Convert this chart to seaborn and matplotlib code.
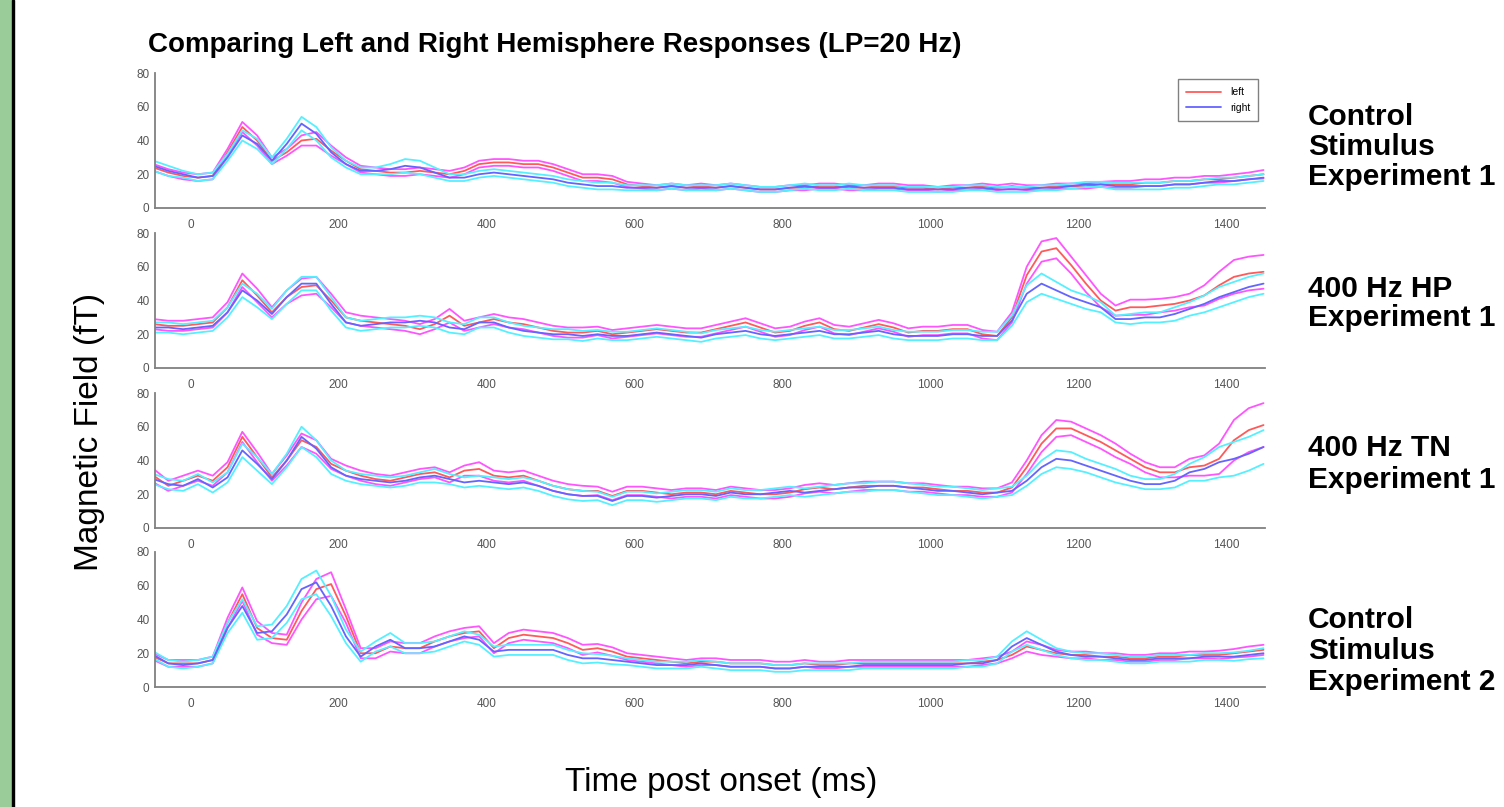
import numpy as np
import pandas as pd
import seaborn as sns
import matplotlib.pyplot as plt
from matplotlib.patches import Rectangle
from matplotlib.lines import Line2D

# time axis (ms), sampled every 20 ms
time_ms = np.arange(-50, 1451, 20)

# --- Control Stimulus, Experiment 1 ---
p1_left = [24, 21, 19, 18, 19, 33, 48, 40, 28, 33,
           40, 41, 34, 28, 23, 22, 21, 21, 22, 21,
           20, 22, 26, 27, 27, 26, 26, 24, 21, 18,
           18, 17, 14, 13, 12, 13, 12, 13, 12, 13,
           12, 11, 11, 12, 12, 13, 13, 12, 12, 13,
           13, 12, 12, 11, 12, 12, 13, 12, 13, 12,
           12, 13, 13, 13, 14, 14, 14, 15, 15, 16,
           16, 17, 17, 18, 19, 20]
p1_left_err = [2, 2, 2, 2, 2, 2, 3, 3, 2, 2,
               3, 4, 3, 2, 2, 2, 2, 2, 2, 2,
               2, 2, 2, 2, 2, 2, 2, 2, 2, 2,
               2, 2, 1.5, 1.5, 1.5, 1.5, 1.5, 1.5, 1.5, 1.5,
               1.5, 1.5, 1.5, 1.5, 1.5, 1.5, 1.5, 1.5, 1.5, 1.5,
               1.5, 1.5, 1.5, 1.5, 1.5, 1.5, 1.5, 1.5, 1.5, 1.5,
               1.5, 1.5, 1.5, 1.5, 1.5, 2, 2, 2, 2, 2,
               2, 2, 2, 2, 2, 2.5]
p1_right = [25, 22, 20, 18, 19, 30, 43, 38, 28, 38,
            50, 44, 33, 26, 22, 22, 23, 25, 24, 21,
            18, 18, 20, 21, 20, 19, 18, 17, 15, 14,
            13, 13, 12, 12, 12, 13, 12, 12, 12, 13,
            12, 11, 11, 12, 13, 12, 12, 13, 12, 12,
            12, 11, 11, 11, 11, 12, 12, 11, 11, 11,
            12, 12, 13, 14, 14, 13, 13, 13, 13, 14,
            14, 15, 16, 16, 17, 18]
p1_right_err = [3, 3, 2, 2, 2, 2, 3, 3, 2, 3,
                4, 4, 3, 2, 2, 2, 3, 4, 4, 3,
                2, 2, 2, 2, 2, 2, 2, 2, 2, 2,
                2, 2, 1.5, 1.5, 1.5, 1.5, 1.5, 1.5, 1.5, 1.5,
                1.5, 1.5, 1.5, 1.5, 1.5, 1.5, 1.5, 1.5, 1.5, 1.5,
                1.5, 1.5, 1.5, 1.5, 1.5, 1.5, 1.5, 1.5, 1.5, 1.5,
                1.5, 1.5, 1.5, 1.5, 1.5, 2, 2, 2, 2, 2,
                2, 2, 2, 2, 2, 2]

# --- 400 Hz HP, Experiment 1 ---
p2_left = [26, 25, 25, 26, 27, 36, 52, 43, 33, 42,
           48, 49, 40, 30, 28, 27, 26, 25, 23, 26,
           31, 25, 27, 29, 27, 26, 24, 22, 21, 21,
           22, 20, 21, 22, 23, 22, 21, 21, 23, 25,
           27, 24, 21, 22, 25, 27, 23, 22, 24, 26,
           24, 21, 22, 22, 23, 23, 20, 19, 30, 55,
           69, 71, 61, 50, 40, 34, 36, 36, 37, 38,
           40, 43, 49, 54, 56, 57]
p2_left_err = [3, 3, 3, 3, 3, 3, 4, 4, 3, 4,
               5, 5, 4, 3, 3, 3, 3, 3, 3, 3,
               4, 3, 3, 3, 3, 3, 3, 3, 3, 3,
               2.5, 2.5, 2.5, 2.5, 2.5, 2.5, 2.5, 2.5, 2.5, 2.5,
               2.5, 2.5, 2.5, 2.5, 2.5, 2.5, 2.5, 2.5, 2.5, 2.5,
               2.5, 2.5, 2.5, 2.5, 2.5, 2.5, 2.5, 2.5, 3, 5,
               6, 6, 5, 5, 4, 3, 4.5, 4.5, 4, 4,
               4, 6, 8, 10, 10, 10]
p2_right = [24, 24, 23, 24, 25, 33, 46, 40, 32, 42,
            50, 50, 38, 27, 25, 26, 27, 27, 28, 27,
            24, 23, 27, 27, 24, 22, 21, 20, 20, 19,
            20, 19, 19, 20, 21, 20, 19, 18, 20, 21,
            22, 20, 19, 20, 21, 22, 20, 20, 21, 22,
            20, 19, 19, 19, 20, 20, 19, 19, 28, 44,
            50, 46, 42, 39, 36, 29, 29, 30, 30, 32,
            35, 38, 42, 45, 48, 50]
p2_right_err = [3, 3, 3, 3, 3, 3, 4, 4, 3, 4,
                4, 4, 4, 3, 3, 3, 3, 3, 3, 3,
                3, 3, 3, 3, 3, 3, 3, 3, 3, 3,
                2.5, 2.5, 2.5, 2.5, 2.5, 2.5, 2.5, 2.5, 2.5, 2.5,
                2.5, 2.5, 2.5, 2.5, 2.5, 2.5, 2.5, 2.5, 2.5, 2.5,
                2.5, 2.5, 2.5, 2.5, 2.5, 2.5, 2.5, 2.5, 3, 5,
                6, 5, 4, 4, 3, 2, 3, 3, 3, 4,
                4, 5, 6, 6, 6, 6]

# --- 400 Hz TN, Experiment 1 ---
p3_left = [31, 25, 28, 31, 28, 36, 54, 42, 30, 40,
           52, 48, 38, 34, 31, 29, 28, 30, 32, 33,
           30, 34, 35, 31, 30, 31, 28, 25, 23, 22,
           22, 19, 22, 22, 21, 20, 21, 21, 20, 22,
           21, 20, 20, 21, 23, 24, 23, 24, 25, 25,
           25, 24, 24, 23, 22, 22, 21, 21, 24, 36,
           50, 59, 59, 55, 51, 46, 41, 36, 33, 33,
           36, 37, 41, 52, 58, 61]
p3_left_err = [4, 3, 3, 3, 3, 3, 3, 3, 2, 3,
               4, 4, 3, 3, 3, 3, 3, 3, 3, 3,
               3, 3, 4, 3, 3, 3, 3, 3, 3, 3,
               2.5, 2.5, 2.5, 2.5, 2.5, 2.5, 2.5, 2.5, 2.5, 2.5,
               2.5, 2.5, 2.5, 2.5, 2.5, 2.5, 2.5, 2.5, 2.5, 2.5,
               2.5, 2.5, 2.5, 2.5, 2.5, 2.5, 2.5, 2.5, 3, 4,
               5, 5, 4, 4, 4, 4, 3, 3, 3, 3,
               5, 6, 9, 12, 13, 13]
p3_right = [29, 26, 25, 29, 24, 30, 46, 38, 29, 40,
            54, 47, 36, 31, 29, 28, 27, 28, 30, 31,
            29, 27, 28, 27, 26, 27, 25, 22, 20, 19,
            19, 16, 19, 19, 18, 19, 20, 20, 19, 21,
            20, 20, 21, 22, 21, 22, 23, 24, 24, 25,
            25, 24, 23, 22, 22, 21, 20, 21, 22, 28,
            36, 41, 40, 37, 34, 31, 28, 26, 26, 28,
            33, 35, 39, 41, 44, 48]
p3_right_err = [3, 3, 3, 3, 3, 3, 4, 4, 3, 4,
                6, 5, 4, 3, 3, 3, 3, 3, 3, 4,
                3, 3, 3, 3, 3, 3, 3, 3, 3, 3,
                2.5, 2.5, 2.5, 2.5, 2.5, 2.5, 2.5, 2.5, 2.5, 2.5,
                2.5, 2.5, 2.5, 2.5, 2.5, 2.5, 2.5, 2.5, 2.5, 2.5,
                2.5, 2.5, 2.5, 2.5, 2.5, 2.5, 2.5, 2.5, 2.5, 3,
                4, 5, 5, 4, 4, 4, 3, 3, 3, 4,
                5, 7, 9, 10, 10, 10]

# --- Control Stimulus, Experiment 2 ---
p4_left = [18, 14, 14, 14, 16, 38, 55, 35, 29, 28,
           45, 58, 61, 42, 20, 20, 24, 23, 23, 27,
           30, 32, 33, 23, 29, 31, 30, 29, 26, 22,
           23, 21, 18, 17, 16, 15, 14, 15, 15, 14,
           14, 14, 13, 13, 14, 13, 13, 14, 14, 14,
           14, 14, 14, 14, 14, 14, 15, 16, 19, 24,
           22, 20, 19, 19, 18, 18, 17, 17, 18, 18,
           19, 19, 19, 20, 21, 22]
p4_left_err = [2, 2, 2, 2, 2, 3, 4, 4, 3, 3,
               5, 6, 7, 4, 3, 3, 3, 3, 3, 3,
               3, 3, 3, 3, 3, 3, 3, 3, 3, 3,
               2.5, 2.5, 2, 2, 2, 2, 2, 2, 2, 2,
               2, 2, 2, 2, 2, 2, 2, 2, 2, 2,
               2, 2, 2, 2, 2, 2, 2, 2, 2, 3,
               3, 2, 2, 2, 2, 2, 2, 2, 2, 2,
               2, 2, 2.5, 2.5, 3, 3]
p4_right = [19, 14, 13, 14, 16, 35, 48, 32, 33, 43,
            58, 62, 48, 30, 18, 24, 28, 23, 23, 24,
            27, 30, 28, 21, 22, 22, 22, 22, 19, 17,
            17, 16, 15, 14, 13, 13, 13, 14, 13, 12,
            12, 12, 11, 11, 12, 12, 12, 12, 13, 13,
            13, 13, 13, 13, 13, 14, 14, 16, 24, 29,
            25, 21, 19, 18, 18, 17, 16, 16, 17, 17,
            17, 18, 18, 18, 19, 20]
p4_right_err = [2, 2, 2, 2, 2, 3, 4, 4, 4, 5,
                6, 7, 6, 4, 3, 3, 4, 3, 3, 3,
                3, 3, 3, 3, 3, 3, 3, 3, 3, 3,
                2.5, 2.5, 2, 2, 2, 2, 2, 2, 2, 2,
                2, 2, 2, 2, 2, 2, 2, 2, 2, 2,
                2, 2, 2, 2, 2, 2, 2, 2, 3, 4,
                3, 2, 2, 2, 2, 2, 2, 2, 2, 2,
                2, 2, 2, 2.5, 2.5, 3]

panel_names = [["Control", "Stimulus", "Experiment 1"],
               ["400 Hz HP", "Experiment 1"],
               ["400 Hz TN", "Experiment 1"],
               ["Control", "Stimulus", "Experiment 2"]]

panels = [(p1_left, p1_left_err, p1_right, p1_right_err),
          (p2_left, p2_left_err, p2_right, p2_right_err),
          (p3_left, p3_left_err, p3_right, p3_right_err),
          (p4_left, p4_left_err, p4_right, p4_right_err)]

RED, MAGENTA = '#ff5a5a', '#ff55ff'
BLUE, CYAN = '#6464ff', '#55f0ff'

sns.set_style('white')
plt.rcParams['font.family'] = ['Liberation Sans', 'DejaVu Sans']
plt.rcParams['text.color'] = 'black'

W, H = 1504, 807
fig = plt.figure(figsize=(W / 100, H / 100), dpi=100)

# green strip on the left edge
fig.patches.append(Rectangle((0, 0), 12 / W, 1, transform=fig.transFigure,
                             color='#99cc99', zorder=0))
fig.patches.append(Rectangle((12 / W, 0), 2 / W, 1, transform=fig.transFigure,
                             color='black', zorder=0))

ax_left, ax_right = 155, 1265
ax_tops = [73, 233, 393, 552]
ax_h = 135

# label line positions (pixels from top)
label_rows = [[117, 147, 177], [289, 318], [448, 480], [620, 651, 682]]

for i, (left, left_err, right, right_err) in enumerate(panels):
    top = ax_tops[i]
    ax = fig.add_axes([ax_left / W, 1 - (top + ax_h) / H,
                       (ax_right - ax_left) / W, ax_h / H])
    left = np.array(left, float)
    left_err = np.array(left_err, float)
    right = np.array(right, float)
    right_err = np.array(right_err, float)

    for y, c in [(left + left_err, MAGENTA), (left - left_err, MAGENTA),
                 (left, RED),
                 (right + right_err, CYAN), (right - right_err, CYAN),
                 (right, BLUE)]:
        sns.lineplot(x=time_ms, y=y, color=c, linewidth=1.3, ax=ax,
                     estimator=None, legend=False)

    ax.set_xlim(-48, 1452)
    ax.set_ylim(0, 80)
    ax.set_xticks(range(0, 1401, 200))
    ax.set_yticks(range(0, 81, 20))
    ax.set_xlabel('')
    ax.set_ylabel('')
    for s in ['top', 'right']:
        ax.spines[s].set_visible(False)
    for s in ['left', 'bottom']:
        ax.spines[s].set_color('#808080')
        ax.spines[s].set_linewidth(1.3)
    ax.tick_params(direction='in', length=6, width=1, color='#808080',
                   labelcolor='#555555', labelsize=8.5)
    ax.tick_params(axis='x', pad=8)
    ax.tick_params(axis='y', pad=4)
    ax.patch.set_alpha(0)

    if i == 0:
        handles = [Line2D([], [], color=RED, lw=1.3),
                   Line2D([], [], color=BLUE, lw=1.3)]
        leg = ax.legend(handles, ['left', 'right'], loc='upper right',
                        bbox_to_anchor=(0.994, 0.956), fontsize=7.5,
                        fancybox=False, edgecolor='#808080', framealpha=1,
                        handlelength=3.4, borderaxespad=0, labelspacing=0.55,
                        borderpad=0.8)
        leg.get_frame().set_linewidth(1)

    for txt, ypx in zip(panel_names[i], label_rows[i]):
        fig.text(1308 / W, 1 - ypx / H, txt, ha='left', va='center',
                 fontsize=21.5, fontweight='bold')

fig.text(148 / W, 1 - 45 / H,
         'Comparing Left and Right Hemisphere Responses (LP=20 Hz)',
         ha='left', va='center', fontsize=20, fontweight='bold')
fig.text(90 / W, 1 - 432 / H, 'Magnetic Field (fT)', rotation=90,
         ha='center', va='center', fontsize=24)
fig.text(721 / W, 1 - 783 / H, 'Time post onset (ms)', ha='center',
         va='center', fontsize=24)

fig.savefig('out.png', dpi=100)
